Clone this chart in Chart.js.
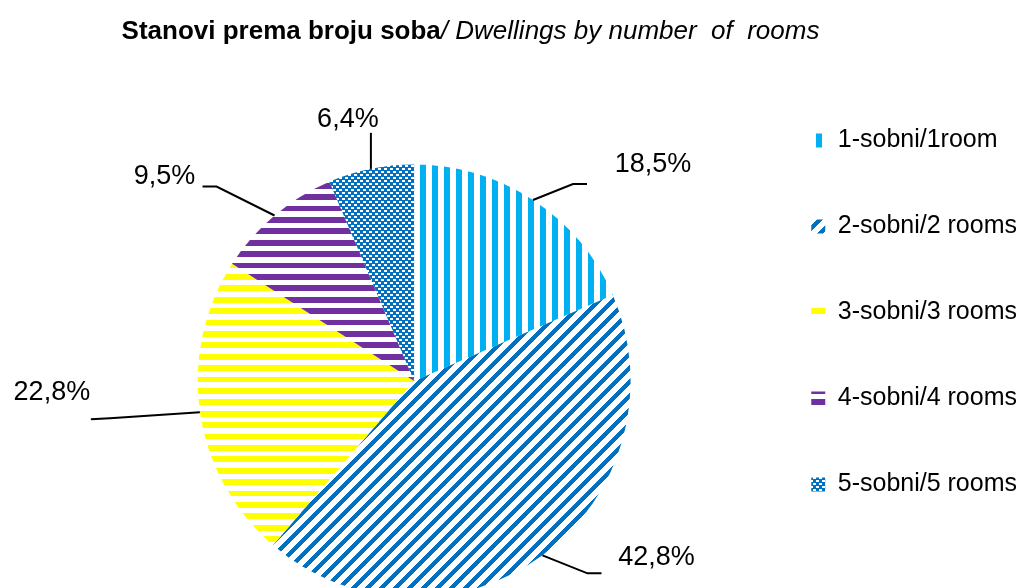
<!DOCTYPE html>
<html>
<head>
<meta charset="utf-8">
<script src="https://cdn.jsdelivr.net/npm/chart.js@4.4.0/dist/chart.umd.min.js"></script>
<style>
  html, body { margin: 0; padding: 0; background: #fff; overflow: hidden; }
  body { width: 1023px; height: 588px; position: relative; }
  #wrap { position: absolute; left: 0; top: 0; width: 1023px; height: 695px; }
  #title { position: absolute; left: 0; top: 17px; width: 941px; text-align: center;
           font: 26px/26px "Liberation Sans", Arial, sans-serif; color: #000; white-space: pre; }
</style>
</head>
<body>
<div id="wrap"><canvas id="rooms-pie"></canvas></div>
<div id="title"><b>Stanovi prema broju soba</b><i>/ Dwellings by number  of  rooms</i></div>
<script>
// data
var rooms = ["1-sobni/1room", "2-sobni/2 rooms", "3-sobni/3 rooms", "4-sobni/4 rooms", "5-sobni/5 rooms"];
var shares = [18.5, 42.8, 22.8, 9.5, 6.4];

// excel-ish hatch fills, base cell scaled up nearest-neighbour into a px tile
function makePattern(base, reps, tilePx, colour, test) {
  var tile = document.createElement("canvas");
  tile.width = tilePx;
  tile.height = tilePx;
  var t = tile.getContext("2d");
  t.fillStyle = colour;
  var k = base * reps / tilePx;
  for (var y = 0; y < tilePx; y++) {
    for (var x = 0; x < tilePx; x++) {
      var bx = Math.floor(x * k) % base;
      var by = Math.floor(y * k) % base;
      if (test(bx, by)) t.fillRect(x, y, 1, 1);
    }
  }
  return t.createPattern(tile, "repeat");
}

// checker with slightly smaller white holes
function checkerBlue(x, y) {
  var hole = (x < 3 && y < 2) || (x >= 3 && y >= 3 && y < 5);
  return !hole;
}

var fills = [
  makePattern(8, 1, 12, "#00B0F0", function (x, y) { return x < 4; }),
  makePattern(14, 1, 14, "#0070C0", function (x, y) { return (x + y) % 14 < 6; }),
  makePattern(8, 5, 57, "#FFFF00", function (x, y) { return y < 4; }),
  makePattern(8, 5, 57, "#7030A0", function (x, y) { return y < 4; }),
  makePattern(6, 1, 6, "#0070C0", checkerBlue)
];

// label placement relative to the slice's outer mid point
var labelLayout = [
  { elbow: [40, -16], end: [54, -16], text: [120, -36] },
  { elbow: [45, 18], end: [59, 18], text: [114, 2] },
  { elbow: [-90, 6], end: [-109, 7], text: [-148, -20] },
  { elbow: [-58, -29], end: [-72, -29], text: [-110, -39] },
  { elbow: [0, -36], end: [0, -36], text: [-23, -49] }
];

var leaderLabels = {
  id: "leaderLabels",
  afterDatasetsDraw: function (chart) {
    var c = chart.ctx;
    var meta = chart.getDatasetMeta(0);
    var values = chart.data.datasets[0].data;
    c.save();
    c.strokeStyle = "#000";
    c.lineWidth = 2;
    c.fillStyle = "#000";
    c.font = '27px "Liberation Sans", Arial, sans-serif';
    c.textAlign = "center";
    c.textBaseline = "middle";
    meta.data.forEach(function (arc, i) {
      var p = arc.getProps(["x", "y", "startAngle", "endAngle", "outerRadius"], true);
      var mid = (p.startAngle + p.endAngle) / 2;
      var ax = p.x + Math.cos(mid) * p.outerRadius;
      var ay = p.y + Math.sin(mid) * p.outerRadius;
      var lay = labelLayout[i];
      c.beginPath();
      c.moveTo(ax, ay);
      c.lineTo(ax + lay.elbow[0], ay + lay.elbow[1]);
      c.lineTo(ax + lay.end[0], ay + lay.end[1]);
      c.stroke();
      c.fillText(values[i].toFixed(1).replace(".", ",") + "%", ax + lay.text[0], ay + lay.text[1]);
    });
    c.restore();
  }
};

Chart.defaults.font.family = '"Liberation Sans", Arial, sans-serif';
Chart.defaults.color = "#000";

var pieCanvas = document.getElementById("rooms-pie").getContext("2d");
var roomsChart = new Chart(pieCanvas, {
  type: "pie",
  data: {
    labels: rooms,
    datasets: [{
      data: shares,
      backgroundColor: fills,
      borderWidth: 0,
      radius: 216.5
    }]
  },
  options: {
    responsive: true,
    maintainAspectRatio: false,
    animation: false,
    layout: { padding: { left: 78, top: 67, right: -4, bottom: 0 } },
    plugins: {
      legend: {
        position: "right",
        align: "start",
        labels: {
          boxWidth: 14,
          boxHeight: 14,
          padding: 61,
          color: "#000",
          font: { size: 25 }
        }
      },
      tooltip: { enabled: false }
    }
  },
  plugins: [leaderLabels]
});
</script>
</body>
</html>
